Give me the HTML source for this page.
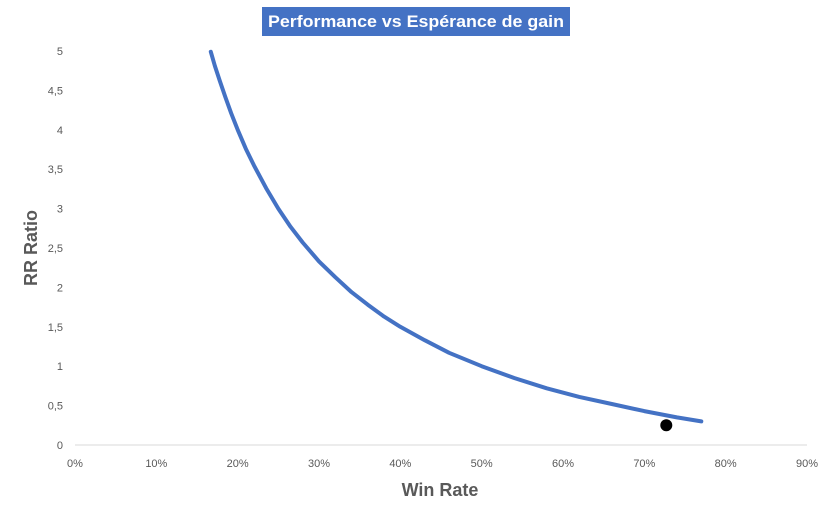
<!DOCTYPE html>
<html><head><meta charset="utf-8"><style>
body{margin:0;background:#fff;font-family:"Liberation Sans",sans-serif}
svg{display:block}
</style></head><body>
<svg id="chart" width="833" height="516">
  <rect x="262" y="7" width="308" height="29" fill="#4472C4"/>
  <text x="416" y="27" text-anchor="middle" font-size="17" font-weight="bold" fill="#fff" textLength="296" lengthAdjust="spacingAndGlyphs">Performance vs Espérance de gain</text>
  <text x="440" y="496" text-anchor="middle" font-size="18" font-weight="bold" fill="#595959">Win Rate</text>
  <text transform="translate(37,248) rotate(-90)" text-anchor="middle" font-size="18" font-weight="bold" fill="#595959">RR Ratio</text>
  <g id="axes"></g>
  <g id="marks"></g>
</svg>
<script>
const xTicks=[0,0.1,0.2,0.3,0.4,0.5,0.6,0.7,0.8,0.9];
const xTickLabels=["0%","10%","20%","30%","40%","50%","60%","70%","80%","90%"];
const yTicks=[0,0.5,1,1.5,2,2.5,3,3.5,4,4.5,5];
const yTickLabels=["0","0,5","1","1,5","2","2,5","3","3,5","4","4,5","5"];
const winRates=[0.167,0.172,0.178,0.185,0.192,0.2,0.21,0.22,0.235,0.25,0.265,0.28,0.3,0.32,0.34,0.36,0.38,0.4,0.43,0.46,0.5,0.54,0.58,0.62,0.66,0.7,0.74,0.77];
const rrValues=[4.99,4.81,4.62,4.41,4.21,4,3.76,3.55,3.26,3,2.77,2.57,2.33,2.13,1.94,1.78,1.63,1.5,1.33,1.17,1,0.85,0.72,0.61,0.52,0.43,0.35,0.3];
const pointWin=[0.727];
const pointRR=[0.25];
const NS="http://www.w3.org/2000/svg";
const sx=v=>75+v/0.9*732;
const sy=v=>445-v/5*394;
const axes=document.getElementById('axes'),marks=document.getElementById('marks');
function mk(tag,attrs,parent){const e=document.createElementNS(NS,tag);for(const k in attrs)e.setAttribute(k,attrs[k]);parent.appendChild(e);return e;}
const xl=mk('line',{x1:sx(0),x2:sx(0.9),y1:sy(0),y2:sy(0),stroke:'#D9D9D9','stroke-width':1},axes);


xTicks.forEach((t,i)=>{
  const tx=mk('text',{x:sx(t),y:467,'text-anchor':'middle','font-size':11,fill:'#595959'},axes);
  tx.textContent=xTickLabels[i];
  
  
});
yTicks.forEach((t,i)=>{
  const tx=mk('text',{x:63,y:sy(t)+4,'text-anchor':'end','font-size':11,fill:'#595959'},axes);
  tx.textContent=yTickLabels[i];
  
  
});
const d=winRates.map((w,i)=>(i?'L':'M')+sx(w).toFixed(1)+','+sy(rrValues[i]).toFixed(1)).join(' ');
const p=mk('path',{d:d,fill:'none',stroke:'#4472C4','stroke-width':4,'stroke-linecap':'round','stroke-linejoin':'round'},marks);


pointWin.forEach((w,i)=>{
  const c=mk('circle',{cx:sx(w),cy:sy(pointRR[i]),r:6,fill:'#000'},marks);
  
  
});
</script>
</body></html>
